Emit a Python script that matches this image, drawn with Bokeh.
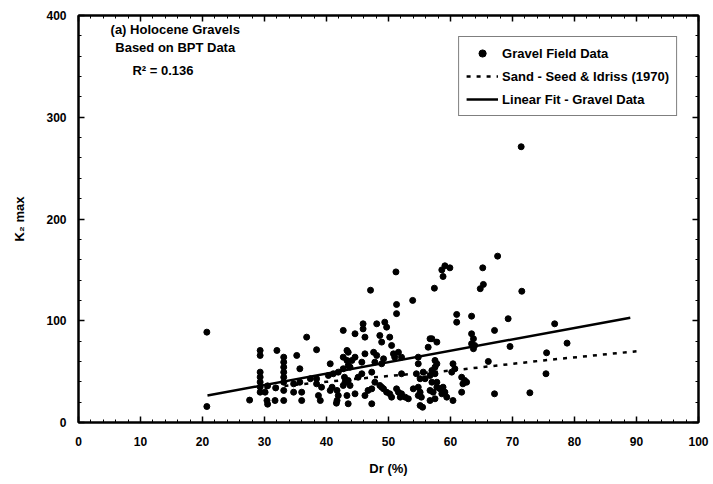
from bokeh.plotting import figure
from bokeh.models import Range1d, LinearAxis, Legend, LegendItem, Label, SingleIntervalTicker
from bokeh.embed import file_html
from bokeh.resources import INLINE

# Gravel field data (Dr %, K2 max)
dr = [20.7, 20.7, 27.6, 29.3, 29.3, 29.3, 29.3, 29.3, 29.3, 29.3, 30.1, 30.4, 30.5, 31.7, 32.0,
      33.1, 33.1, 33.1, 33.1, 33.1, 33.1, 33.1, 33.1, 35.2, 36.8, 38.4, 42.7, 43.3, 35.7, 40.6,
      34.7, 35.7, 34.7, 36.0, 36.0, 38.4, 39.2, 38.7, 39.0, 40.9, 40.6, 41.7, 41.7, 41.9, 37.4,
      38.4, 43.3, 43.5, 42.9, 41.6, 30.5, 31.8, 40.3, 41.1, 41.9,
      45.9, 45.9, 48.1, 49.4, 49.7, 44.6, 46.2, 48.6, 48.9, 50.2, 50.5, 56.7, 57.8, 56.4, 43.5,
      42.7, 44.6, 46.2, 45.7, 47.6, 48.1, 47.8, 50.8, 51.6, 52.1, 51.0, 49.2, 48.9, 54.8, 54.8,
      44.1, 57.5, 42.7, 43.8, 47.3, 52.1, 45.1, 45.7, 43.0, 43.5, 43.8, 42.7, 47.8, 48.6, 48.9,
      54.5, 55.6, 55.1, 55.9, 56.7, 57.5, 57.0, 57.8, 46.7, 47.3, 46.2, 44.6, 43.3, 43.5, 49.2,
      49.7, 50.2, 50.5, 51.3, 51.6, 52.1, 51.9, 52.7, 53.2, 54.0, 54.8, 55.1, 54.8, 55.3, 56.7,
      57.2, 57.5, 56.7, 47.3, 55.1, 55.5,
      61.0, 67.1, 63.4, 63.7, 63.4, 63.9, 63.7, 57.0, 57.8, 57.5, 57.0, 60.4, 60.7, 60.2, 61.8,
      62.3, 62.6, 62.0, 66.1, 58.3, 57.8, 58.8, 59.1, 58.6, 59.4, 60.4, 61.8, 67.1,
      69.3, 76.8, 69.6, 78.8, 75.5, 75.4, 72.8,
      71.4, 67.6, 59.1, 59.9, 58.6, 58.8, 51.2, 65.2, 65.3, 64.8, 47.1, 57.4, 71.5, 53.9, 51.3,
      51.3, 61.0, 63.4]
k2 = [88.8, 15.7, 22.0, 70.8, 65.9, 49.5, 44.6, 39.7, 34.8, 29.8, 29.8, 21.6, 18.0, 21.6, 70.8,
      64.2, 59.3, 54.4, 49.4, 44.5, 39.6, 31.5, 21.6, 65.9, 83.9, 71.5, 90.5, 70.8, 52.8, 57.7,
      38.0, 39.6, 29.8, 29.8, 21.6, 38.0, 34.7, 26.5, 21.6, 34.7, 31.5, 31.5, 21.6, 26.5, 43.0,
      43.0, 61.0, 56.0, 44.5, 19.0, 36.0, 34.0, 46.2, 47.9, 49.5,
      97.0, 92.0, 97.0, 98.6, 93.7, 87.2, 83.9, 85.5, 79.0, 83.9, 75.7, 82.3, 79.0, 74.0, 69.0,
      64.2, 64.2, 67.5, 59.3, 69.0, 65.9, 59.3, 67.5, 69.0, 64.2, 64.2, 62.6, 57.7, 64.2, 57.7,
      61.0, 61.0, 52.8, 54.4, 49.5, 47.9, 44.5, 47.9, 39.6, 41.3, 36.4, 36.4, 39.6, 36.4, 34.7,
      47.9, 49.5, 43.0, 43.0, 46.2, 47.9, 39.6, 39.6, 31.5, 33.1, 26.5, 28.2, 26.5, 18.4, 33.1,
      29.8, 28.2, 24.9, 33.1, 29.8, 28.2, 24.9, 24.9, 23.3, 33.1, 34.7, 29.8, 26.5, 24.9, 31.5,
      29.8, 23.3, 21.6, 18.4, 16.7, 15.0,
      98.6, 90.5, 87.2, 82.3, 77.4, 75.7, 72.5, 82.3, 57.7, 54.4, 51.1, 57.7, 52.8, 49.5, 44.5,
      41.3, 39.6, 38.0, 60.0, 33.1, 34.7, 34.7, 29.8, 28.2, 24.9, 21.6, 29.8, 28.2,
      102.0, 97.0, 74.7, 78.0, 68.5, 47.9, 29.2,
      271.0, 163.5, 154.0, 152.0, 150.0, 143.5, 148.0, 152.0, 135.7, 131.5, 130.0, 132.0, 129.0, 120.0, 116.0,
      107.0, 106.2, 104.5]

# Sand - Seed & Idriss (1970)
sand_dr = [30, 40, 45, 60, 75, 90]
sand_k2 = [34, 40, 43, 51, 61, 70]

# Linear fit - gravel data
fit_dr = [20.8, 89.0]
fit_k2 = [26.5, 103.0]

FONT = "Liberation Sans"

p = figure(width=713, height=484, output_backend="svg", toolbar_location=None,
           x_range=Range1d(0, 100), y_range=Range1d(0, 400),
           min_border_left=78, min_border_right=15, min_border_top=15, min_border_bottom=62)
p.grid.visible = False
p.background_fill_color = "white"
p.border_fill_color = "white"
p.outline_line_color = "black"
p.outline_line_width = 2

p.xaxis.ticker = SingleIntervalTicker(interval=10, num_minor_ticks=5)
p.yaxis.ticker = SingleIntervalTicker(interval=100, num_minor_ticks=5)


def style_axis(ax, labels=True):
    ax.axis_line_color = "black"
    ax.axis_line_width = 2
    ax.major_tick_in = 6
    ax.major_tick_out = 0
    ax.minor_tick_in = 3
    ax.minor_tick_out = 0
    ax.major_tick_line_color = "black"
    ax.major_tick_line_width = 1.5
    ax.minor_tick_line_color = "black"
    ax.minor_tick_line_width = 1
    if labels:
        ax.major_label_text_font = FONT
        ax.major_label_text_font_style = "bold"
        ax.major_label_text_font_size = "12px"
        ax.major_label_text_color = "black"
        ax.axis_label_text_font = FONT
        ax.axis_label_text_font_style = "bold"
        ax.axis_label_text_font_size = "13px"
        ax.axis_label_text_color = "black"
    else:
        ax.major_label_text_font_size = "0px"
        ax.major_label_text_color = None
        ax.major_label_standoff = 0


for ax in p.xaxis:
    style_axis(ax)
    ax.major_label_standoff = 14
    ax.axis_label_standoff = 12
for ax in p.yaxis:
    style_axis(ax)
    ax.major_label_standoff = 12
    ax.axis_label_standoff = 16
p.xaxis.axis_label = "Dr (%)"
p.yaxis.axis_label = "K\u2082 max"

top = LinearAxis(ticker=SingleIntervalTicker(interval=10, num_minor_ticks=5))
style_axis(top, labels=False)
p.add_layout(top, "above")
right = LinearAxis(ticker=SingleIntervalTicker(interval=100, num_minor_ticks=5))
style_axis(right, labels=False)
p.add_layout(right, "right")

r_pts = p.scatter(dr, k2, size=6, color="black")
r_sand = p.line(sand_dr, sand_k2, line_dash="4 6", line_width=2.5, color="black")
r_fit = p.line(fit_dr, fit_k2, line_width=2.5, color="black")

legend = Legend(items=[
    LegendItem(label="Gravel Field Data", renderers=[r_pts]),
    LegendItem(label="Sand - Seed & Idriss (1970)", renderers=[r_sand]),
    LegendItem(label="Linear Fit - Gravel Data", renderers=[r_fit]),
], location="top_right")
legend.margin = 21
legend.padding = 7
legend.spacing = 5
legend.glyph_width = 32
legend.glyph_height = 18
legend.label_standoff = 4
legend.label_text_font = FONT
legend.label_text_font_style = "bold"
legend.label_text_font_size = "13px"
legend.label_text_color = "black"
legend.border_line_color = "black"
legend.border_line_width = 1.5
legend.background_fill_color = "white"
legend.background_fill_alpha = 1
p.add_layout(legend)

for txt, x, y, align in [("(a) Holocene Gravels", 15.6, 386, "center"),
                         ("Based on BPT Data", 15.6, 368.5, "center"),
                         ("R\u00b2 = 0.136", 8.7, 346, "left")]:
    p.add_layout(Label(x=x, y=y, text=txt, text_align=align, text_baseline="middle",
                       text_font=FONT, text_font_style="bold", text_font_size="13px",
                       text_color="black"))

open("out.html", "w").write(file_html(p, INLINE))
